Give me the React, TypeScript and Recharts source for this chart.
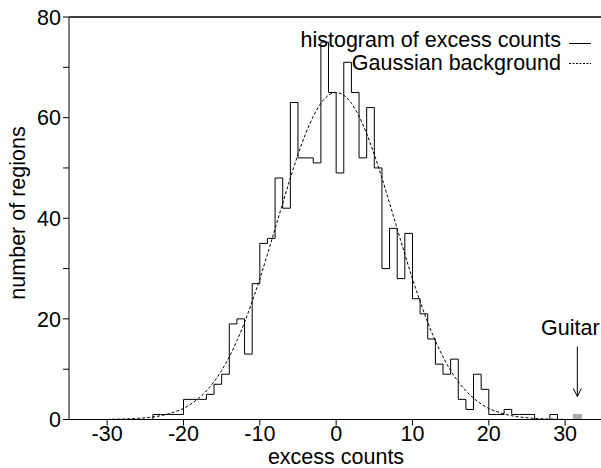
import React from 'react';
import { ComposedChart, Line, XAxis, YAxis, ReferenceLine, ReferenceArea, ReferenceDot, Label } from 'recharts';

const binStarts = [
  -35, -34, -33, -32, -31, -30, -29, -28, -27, -26, -25, -24, -23, -22, -21, -20, -19, -18,
  -17, -16, -15, -14, -13, -12, -11, -10, -9, -8, -7, -6, -5, -4, -3, -2, -1, 0,
  1, 2, 3, 4, 5, 6, 7, 8, 9, 10, 11, 12, 13, 14, 15, 16, 17, 18,
  19, 20, 21, 22, 23, 24, 25, 26, 27, 28, 29, 30, 31, 32, 33, 34,
];
const counts = [
  0, 0, 0, 0, 0, 0, 0, 0, 0, 0, 0, 1, 1, 1, 1, 4, 4, 4,
  5, 7, 9, 19, 20, 13, 27, 35, 36, 48, 42, 63, 52, 52, 51, 75, 65, 49,
  71, 65, 52, 62, 50, 30, 38, 28, 37, 24, 21, 16, 11, 9, 12, 4, 2, 9,
  6, 1, 1, 2, 1, 1, 1, 0, 0, 1, 0, 0, 0, 0, 0, 0,
];
const gaussX = [
  -30, -29, -28, -27, -26, -25, -24, -23, -22, -21, -20, -19, -18, -17, -16, -15, -14, -13, -12, -11,
  -10, -9, -8, -7, -6, -5, -4, -3, -2, -1, 0, 1, 2, 3, 4, 5, 6, 7, 8, 9,
  10, 11, 12, 13, 14, 15, 16, 17, 18, 19, 20, 21, 22, 23, 24, 25, 26, 27, 28, 29, 30,
];
const gaussY = [
  0.03, 0.05, 0.09, 0.14, 0.22, 0.35, 0.5, 0.75, 1.1, 1.6, 2.2, 3.1, 4.25, 5.7, 7.5, 9.75, 12.45, 15.65, 19.3, 23.45,
  27.95, 32.85, 37.9, 43.0, 48.0, 52.65, 56.8, 60.25, 62.85, 64.45, 65, 64.45, 62.85, 60.25, 56.8, 52.65, 48.0, 43.0, 37.9, 32.85,
  27.95, 23.45, 19.3, 15.65, 12.45, 9.75, 7.5, 5.7, 4.25, 3.1, 2.2, 1.6, 1.1, 0.75, 0.5, 0.35, 0.22, 0.14, 0.09, 0.05, 0.03,
];
const xTicks = [-30, -20, -10, 0, 10, 20, 30];
const yTicks = [0, 10, 20, 30, 40, 50, 60, 70, 80];
const guitarBin = { x1: 31, x2: 32.2, count: 1.1, mark: 31.6, label: 'Guitar' };
const legendItems = ['histogram of excess counts', 'Gaussian background'];
const xLabel = 'excess counts';
const yLabel = 'number of regions';

const data = binStarts.map((x, i) => {
  const gi = gaussX.indexOf(x);
  return { x, hist: counts[i], gauss: gi >= 0 ? gaussY[gi] : undefined };
});

const FONT = '"Liberation Sans", Arial, Helvetica, sans-serif';
const FS = 21.5;

const GuitarMark = (props: any) => {
  const { cx, cy } = props;
  if (cx == null || cy == null) return null;
  const top = cy - 68;
  const tip = cy - 18;
  return (
    <g>
      <text x={cx - 7} y={cy - 79} textAnchor="middle" fontFamily={FONT} fontSize={FS} fill="#000">
        {guitarBin.label}
      </text>
      <line x1={cx} y1={top} x2={cx} y2={tip} stroke="#000" strokeWidth={1} />
      <polyline points={`${cx - 4},${tip - 8} ${cx},${tip} ${cx + 4},${tip - 8}`} fill="none" stroke="#000" strokeWidth={1} />
    </g>
  );
};

export default function App() {
  return (
    <div style={{ position: 'absolute', left: 0, top: 0, width: 601, height: 468, background: '#fff' }}>
      <ComposedChart width={601} height={468} data={data} margin={{ top: 17, right: 0, left: 0, bottom: 0 }}>
        <XAxis
          dataKey="x"
          type="number"
          domain={[-35, 34.7]}
          ticks={xTicks}
          allowDataOverflow
          height={48.5}
          tickSize={6}
          tickMargin={0}
          stroke="#000"
          tick={{ fontFamily: FONT, fontSize: FS, fill: '#000' }}
        >
          <Label
            content={(p: any) => {
              const vb = p.viewBox || {};
              return (
                <text x={vb.x + vb.width / 2 + 1} y={vb.y + 44} textAnchor="middle" fontFamily={FONT} fontSize={FS} fill="#000">
                  {xLabel}
                </text>
              );
            }}
          />
        </XAxis>
        <YAxis
          type="number"
          domain={[0, 80]}
          ticks={yTicks}
          width={69}
          tickSize={6}
          tickMargin={2}
          stroke="#000"
          interval={0}
          tickFormatter={(v: number) => (v % 20 === 0 ? String(v) : '')}
          tick={{ fontFamily: FONT, fontSize: FS, fill: '#000' }}
        >
          <Label
            content={() => (
              <text
                x={25}
                y={213}
                transform="rotate(-90 25 213)"
                textAnchor="middle"
                fontFamily={FONT}
                fontSize={FS}
                fill="#000"
              >
                {yLabel}
              </text>
            )}
          />
        </YAxis>
        <ReferenceLine y={80} stroke="#000" strokeWidth={1.5} ifOverflow="visible" />
        <ReferenceArea x1={guitarBin.x1} x2={guitarBin.x2} y1={0} y2={guitarBin.count} fill="#aaaaaa" fillOpacity={1} stroke="none" />
        <Line
          dataKey="gauss"
          type="monotone"
          stroke="#000"
          strokeWidth={1}
          strokeDasharray="3 2"
          dot={false}
          activeDot={false}
          isAnimationActive={false}
        />
        <Line
          dataKey="hist"
          type="stepAfter"
          stroke="#000"
          strokeWidth={1}
          dot={false}
          activeDot={false}
          isAnimationActive={false}
        />
        <ReferenceDot x={guitarBin.mark} y={1} ifOverflow="visible" shape={GuitarMark} />
      </ComposedChart>
      <svg width={601} height={90} style={{ position: 'absolute', left: 0, top: 0, pointerEvents: 'none' }}>
        {legendItems.map((t, i) => (
          <g key={t}>
            <text x={561} y={47 + i * 23} textAnchor="end" fontFamily={FONT} fontSize={FS} fill="#000">
              {t}
            </text>
            <line
              x1={569}
              x2={591}
              y1={43.5 + i * 20}
              y2={43.5 + i * 20}
              stroke="#000"
              strokeWidth={1}
              strokeDasharray={i === 1 ? '2 1.5' : undefined}
            />
          </g>
        ))}
      </svg>
    </div>
  );
}
